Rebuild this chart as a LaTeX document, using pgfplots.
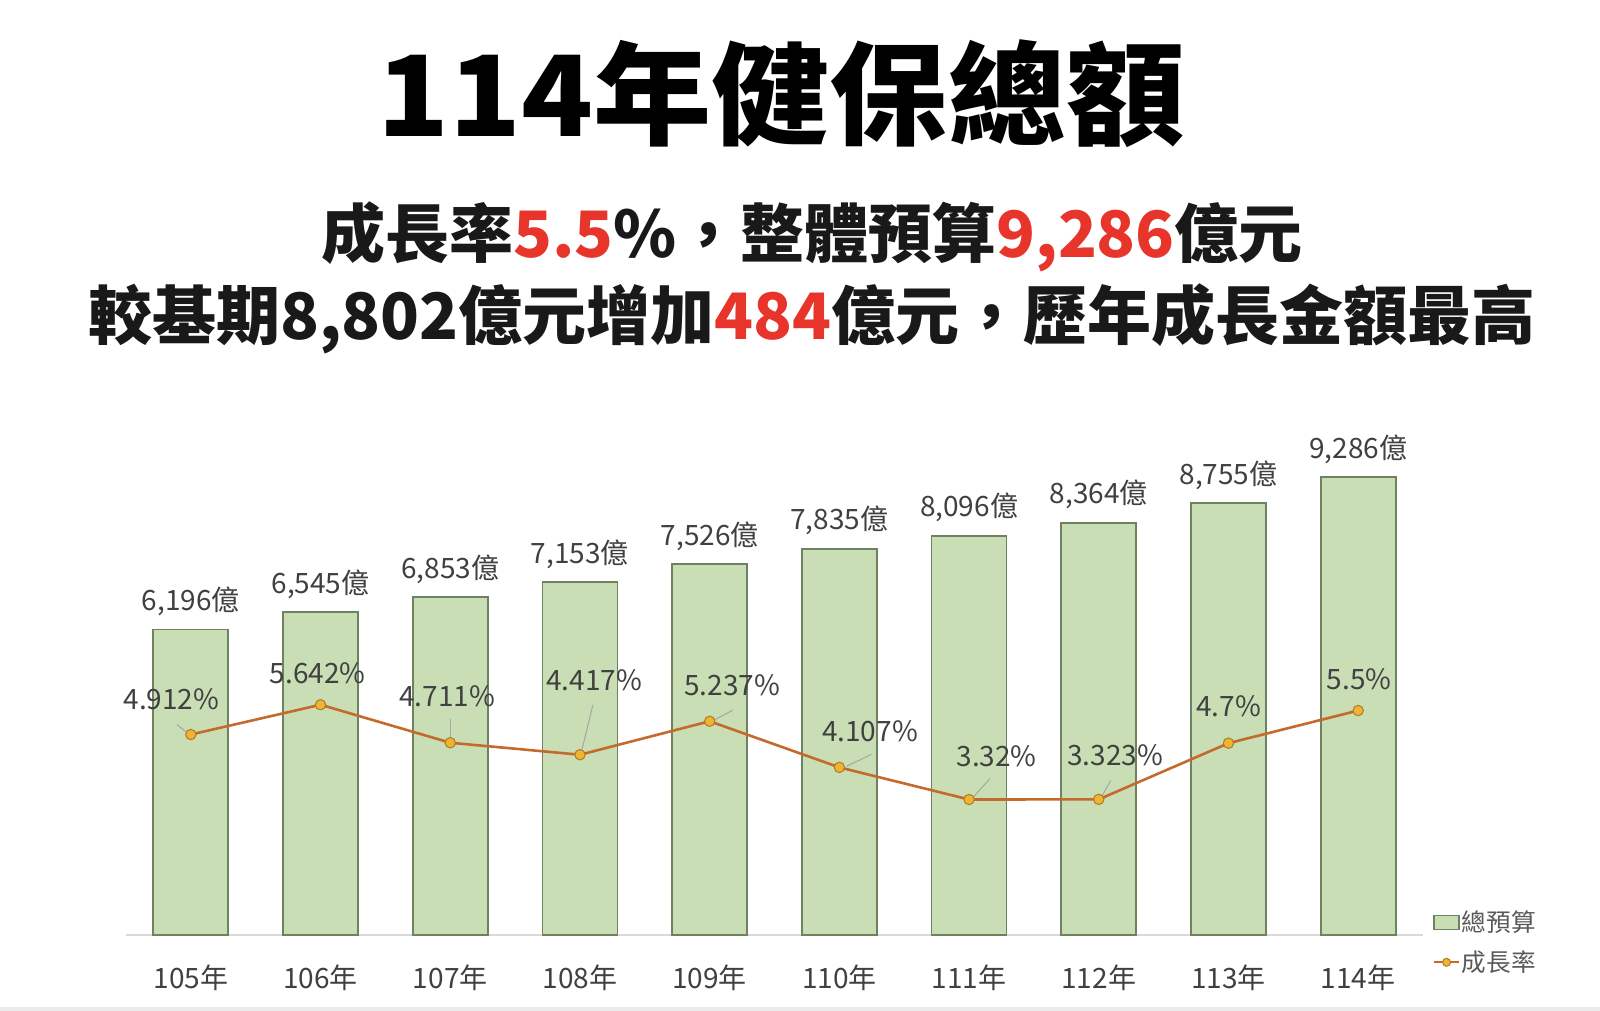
\documentclass[border=0pt]{standalone}
\usepackage{fontspec}
\setmainfont{Noto Sans CJK TC}
\usepackage{graphicx}
\usepackage{pgfplots}
\usepackage{pgfplotstable}
\pgfplotsset{compat=1.18}
\definecolor{barfill}{HTML}{C9DEB5}
\definecolor{baredge}{HTML}{6E8261}
\definecolor{linecol}{HTML}{C46A2C}
\definecolor{markfill}{HTML}{F2B233}
\definecolor{txt}{HTML}{404040}
\definecolor{hlred}{HTML}{E8352B}

\pgfplotsset{
  myboximg/.style={legend image code/.code={\draw[##1] (0cm,-0.125cm) rectangle (0.44cm,0.125cm);}},
  mylineimg/.style={legend image code/.code={\draw[##1, mark size=2pt, line width=0.9pt, mark repeat=2, mark phase=2] plot coordinates {(0cm,0cm) (0.22cm,0cm) (0.44cm,0cm)};}},
}

\pgfplotstableread{
x y label
0 6196 6,196億
1 6545 6,545億
2 6853 6,853億
3 7153 7,153億
4 7526 7,526億
5 7835 7,835億
6 8096 8,096億
7 8364 8,364億
8 8755 8,755億
9 9286 9,286億
}\budget

\pgfplotstableread{
x y label dx dy
0 4.912 4.912\% -9.7 17.8
1 5.642 5.642\% -1.5 15.8
2 4.711 4.711\% -1.5 23.0
3 4.417 4.417\% 7.1 37.3
4 5.237 5.237\% 11.2 17.9
5 4.107 4.107\% 15.3 17.9
6 3.32 3.32\% 13.8 21.4
7 3.323 3.323\% 8.2 22.0
8 4.7 4.7\% 0 18.4
9 5.5 5.5\% 0.5 15.8
}\rate

\begin{document}
\begin{tikzpicture}
\useasboundingbox (0,0) rectangle (800pt,505.5pt);
\fill[black!8] (0,0) rectangle (800pt,2pt);
\begin{scope}[x=0.5pt,y=-0.5pt,shift={(0pt,505.5pt)}]
\node[font=\bfseries\fontsize{56}{60}\selectfont,text=black] at (781,94) {\scalebox{1.055}[1]{114年健保總額}};
\node[font=\bfseries\fontsize{32}{36}\selectfont,text=black!90] at (812,237) {成長率{\color{hlred}5.5}\%，整體預算{\color{hlred}9,286}億元};
\node[font=\bfseries\fontsize{32}{36}\selectfont,text=black!90] at (812,319) {較基期8,802億元增加{\color{hlred}484}億元，歷年成長金額最高};
\end{scope}

\begin{axis}[
  at={(63pt,38pt)}, anchor=south west,
  scale only axis, width=648.5pt, height=246.5pt,
  xmin=-0.5, xmax=9.5, ymin=0, ymax=10000,
  axis x line=bottom, axis y line=none,
  x axis line style={draw=black!15, line width=0.8pt, -},
  xtick={0,...,9},
  xticklabels={105年,106年,107年,108年,109年,110年,111年,112年,113年,114年},
  xtick style={draw=none},
  xticklabel style={anchor=center, yshift=-17pt, font=\fontsize{14}{16}\selectfont, text=txt},
  ybar, bar width=37.5pt,
  nodes near coords, point meta=explicit symbolic,
  every node near coord/.append style={anchor=center, yshift=14pt, inner sep=0pt, font=\fontsize{14}{16}\selectfont, text=txt},
  clip=false,
]
\addplot[fill=barfill, draw=baredge, line width=0.9pt] table[x=x, y=y, meta=label] {\budget};
\end{axis}

\begin{axis}[
  at={(63pt,38pt)}, anchor=south west,
  scale only axis, width=648.5pt, height=246.5pt,
  xmin=-0.5, xmax=9.5, ymin=0, ymax=12.08,
  axis lines=none, xtick=\empty, ytick=\empty,
  clip=false,
  legend style={at={(1.0075,-0.015)}, anchor=west, draw=none, fill=none,
    font=\fontsize{12.3}{14}\selectfont, text=black!65, row sep=6pt,
    inner sep=0pt, nodes={inner sep=1pt}},
  legend cell align=left,
]
\addlegendimage{area legend, fill=barfill, draw=baredge, line width=0.7pt, myboximg}
\addlegendentry{總預算}
\addplot[linecol, line width=1.3pt, mark=*, mark size=2.6pt,
  mark options={fill=markfill, draw=markfill!70!black, line width=0.5pt},
  nodes near coords, point meta=explicit symbolic,
  visualization depends on={\thisrow{dx} \as \dx},
  visualization depends on={\thisrow{dy} \as \dy},
  every node near coord/.append style={anchor=center, xshift=\dx pt, yshift=\dy pt, inner sep=0pt, font=\fontsize{14}{16}\selectfont, text=txt},
  mylineimg,
] table[x=x, y=y, meta=label] {\rate};
\addlegendentry{成長率}
\draw[black!35, line width=0.5pt] ([xshift=-7pt,yshift=5pt]axis cs:0,4.912) -- ([xshift=-2pt,yshift=1pt]axis cs:0,4.912);
\draw[black!35, line width=0.5pt] ([xshift=0pt,yshift=12pt]axis cs:2,4.711) -- ([xshift=0pt,yshift=2.5pt]axis cs:2,4.711);
\draw[black!35, line width=0.5pt] ([xshift=6.5pt,yshift=25pt]axis cs:3,4.417) -- ([xshift=1pt,yshift=2.5pt]axis cs:3,4.417);
\draw[black!35, line width=0.5pt] ([xshift=11.5pt,yshift=5.5pt]axis cs:4,5.237) -- ([xshift=2pt,yshift=0.5pt]axis cs:4,5.237);
\draw[black!35, line width=0.5pt] ([xshift=16pt,yshift=6.5pt]axis cs:5,4.107) -- ([xshift=3.5pt,yshift=0.5pt]axis cs:5,4.107);
\draw[black!35, line width=0.5pt] ([xshift=10.5pt,yshift=10.5pt]axis cs:6,3.32) -- ([xshift=2pt,yshift=1pt]axis cs:6,3.32);
\draw[black!35, line width=0.5pt] ([xshift=6pt,yshift=9.5pt]axis cs:7,3.323) -- ([xshift=1.5pt,yshift=1.5pt]axis cs:7,3.323);
\end{axis}
\end{tikzpicture}
\end{document}
